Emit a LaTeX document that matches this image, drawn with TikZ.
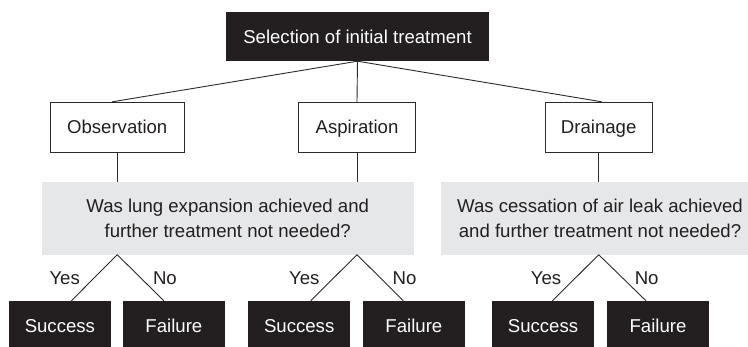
\documentclass[tikz,border=0pt]{standalone}
\usepackage{fontspec}
\setmainfont{Liberation Sans}
\definecolor{boxblack}{HTML}{231F20}
\definecolor{txt}{HTML}{231F20}
\definecolor{qgray}{HTML}{E6E7E8}
\definecolor{linec}{HTML}{2B2B2B}
\begin{document}
\begin{tikzpicture}[x=1pt,y=-1pt,
  fnt/.style={font=\fontsize{18.6}{25.5}\selectfont},
  blk/.style={fnt, fill=boxblack, text=white, minimum height=49pt, inner sep=0pt, text height=13.3pt, text depth=0pt},
  wbox/.style={fnt, draw=linec, line width=1pt, fill=white, text=txt, minimum height=50pt, inner sep=0pt, text height=13.3pt, text depth=0pt},
  qbox/.style={fnt, fill=qgray, text=txt, minimum height=72.8pt, inner sep=0pt, align=center},
  conn/.style={draw=linec, line width=0.9pt},
  lab/.style={fnt, text=txt, inner sep=0pt, text height=13.3pt, text depth=0pt}]
\clip (0,0) rectangle (748,346);
\fill[white] (0,0) rectangle (748,346);
% nodes
\node[blk, minimum width=263pt] (top) at (357.5,36.5) {Selection of initial treatment};
\node[wbox, minimum width=134pt] (obs) at (117.2,127.3) {Observation};
\node[wbox, minimum width=117pt] (asp) at (357,127.3) {Aspiration};
\node[wbox, minimum width=106.7pt] (dra) at (598.7,127.3) {Drainage};
\node[qbox, minimum width=372pt] (q1) at (227.7,218.1) {Was lung expansion achieved and\\further treatment not needed?};
\node[qbox, minimum width=318pt] (q2) at (600,218.1) {Was cessation of air leak achieved\\and further treatment not needed?};
\node[blk, minimum width=101.7pt] (s1) at (59.9,325.5) {Success};
\node[blk, minimum width=101.7pt] (f1) at (173.9,325.5) {Failure};
\node[blk, minimum width=101.7pt] (s2) at (299.2,325.5) {Success};
\node[blk, minimum width=101.7pt] (f2) at (413.9,325.5) {Failure};
\node[blk, minimum width=101.7pt] (s3) at (543,325.5) {Success};
\node[blk, minimum width=101.7pt] (f3) at (658,325.5) {Failure};
% connectors
\draw[conn] (top.south) -- ([xshift=-5pt]obs.north);
\draw[conn] (top.south) -- (asp.north);
\draw[conn] (top.south) -- ([xshift=3pt]dra.north);
\draw[conn] (obs.south) -- (obs.south |- q1.north);
\draw[conn] (asp.south) -- (asp.south |- q1.north);
\draw[conn] (dra.south) -- (dra.south |- q2.north);
\coordinate (a1) at (obs.south |- q1.south);
\coordinate (a2) at (asp.south |- q1.south);
\coordinate (a3) at (dra.south |- q2.south);
\draw[conn] (a1) -- node[lab, anchor=east, xshift=-14pt] (y1) {Yes} ([xshift=11.5pt]s1.north);
\draw[conn] (a1) -- node[lab, anchor=west, xshift=12pt] (n1) {No} ([xshift=-10pt]f1.north);
\draw[conn] (a2) -- node[lab, anchor=east, xshift=-14pt] (y2) {Yes} ([xshift=11.5pt]s2.north);
\draw[conn] (a2) -- node[lab, anchor=west, xshift=12pt] (n2) {No} ([xshift=-10.5pt]f2.north);
\draw[conn] (a3) -- node[lab, anchor=east, xshift=-14pt] (y3) {Yes} ([xshift=9.5pt]s3.north);
\draw[conn] (a3) -- node[lab, anchor=west, xshift=12pt] (n3) {No} ([xshift=-12pt]f3.north);
\end{tikzpicture}
\end{document}
